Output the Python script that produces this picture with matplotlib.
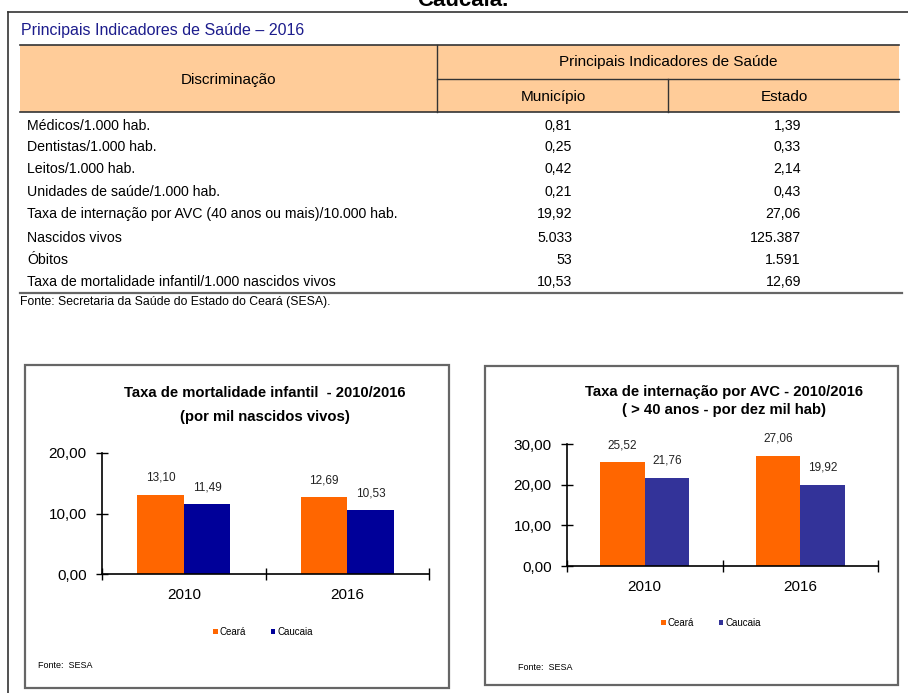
import numpy as np
import matplotlib
matplotlib.use("Agg")
import matplotlib.pyplot as plt
from matplotlib.patches import Rectangle
from matplotlib.lines import Line2D

# -----------------------------
# data
# -----------------------------
indicadores = [
    "Médicos/1.000 hab.",
    "Dentistas/1.000 hab.",
    "Leitos/1.000 hab.",
    "Unidades de saúde/1.000 hab.",
    "Taxa de internação por AVC (40 anos ou mais)/10.000 hab.",
    "Nascidos vivos",
    "Óbitos",
    "Taxa de mortalidade infantil/1.000 nascidos vivos",
]
municipio = ["0,81", "0,25", "0,42", "0,21", "19,92", "5.033", "53", "10,53"]
estado = ["1,39", "0,33", "2,14", "0,43", "27,06", "125.387", "1.591", "12,69"]

anos = ["2010", "2016"]
mort_ceara = [13.10, 12.69]
mort_caucaia = [11.49, 10.53]
avc_ceara = [25.52, 27.06]
avc_caucaia = [21.76, 19.92]

W, H = 908, 693
plt.rcParams["font.family"] = ["Liberation Sans", "DejaVu Sans"]

fig = plt.figure(figsize=(W / 100, H / 100), dpi=100)


def fx(x):
    return x / W


def fy(y):
    return 1 - y / H


def hline(x0, x1, y, color="#333333", lw=1.0):
    fig.add_artist(Line2D([fx(x0), fx(x1)], [fy(y), fy(y)], color=color, lw=lw))


def vline(x, y0, y1, color="#333333", lw=1.0):
    fig.add_artist(Line2D([fx(x), fx(x)], [fy(y0), fy(y1)], color=color, lw=lw))


def txt(x, y, s, **kw):
    kw.setdefault("va", "center")
    fig.text(fx(x), fy(y), s, **kw)


# -----------------------------
# page frame + cut heading
# -----------------------------
txt(463, 6, "Caucaia.", ha="center", va="baseline", fontsize=16, fontweight="bold")
hline(8, 908, 12, lw=1.2)
vline(8, 12, 693, lw=1.2)

# -----------------------------
# table
# -----------------------------
txt(21, 30, "Principais Indicadores de Saúde – 2016", color="#1c1c8c", fontsize=11.5)

fig.add_artist(Rectangle((fx(20), fy(112)), fx(899) - fx(20), fy(45) - fy(112),
                         facecolor="#ffcc99", edgecolor="none"))
hline(20, 899, 45, lw=1.2)
hline(20, 899, 112, lw=1.2)
vline(437, 45, 112)
hline(437, 899, 79)
vline(668, 79, 112)

txt(228, 80, "Discriminação", ha="center", fontsize=11)
txt(668, 62, "Principais Indicadores de Saúde", ha="center", fontsize=11)
txt(553, 97, "Município", ha="center", fontsize=11)
txt(784, 97, "Estado", ha="center", fontsize=11)

row_y = [126, 147, 169, 192, 214, 238, 260, 282]
for yy, lab, m, e in zip(row_y, indicadores, municipio, estado):
    txt(27, yy, lab, fontsize=10.2)
    txt(572, yy, m, ha="right", fontsize=10.2)
    txt(801, yy, e, ha="right", fontsize=10.2)

hline(20, 902, 293, color="#666666", lw=1.6)
txt(20, 302, "Fonte: Secretaria da Saúde do Estado do Ceará (SESA).", fontsize=8.8)


# -----------------------------
# charts
# -----------------------------
def bar_chart(box, axbox, titles, ceara, caucaia, ymax, step, navy, leg_xy, fonte_xy):
    bx0, by0, bx1, by1 = box
    fig.add_artist(Rectangle((fx(bx0), fy(by1)), fx(bx1) - fx(bx0), fy(by0) - fy(by1),
                             facecolor="none", edgecolor="#666666", lw=1.6))
    ax0, ay0, ax1, ay1 = axbox
    ax = fig.add_axes([fx(ax0), fy(ay1), fx(ax1) - fx(ax0), fy(ay0) - fy(ay1)])
    ax.patch.set_alpha(0)

    x = np.arange(len(anos)) + 0.5
    w = 0.285
    b1 = ax.bar(x - w / 2, ceara, w, color="#ff6600", label="Ceará")
    b2 = ax.bar(x + w / 2, caucaia, w, color=navy, label="Caucaia")
    for bars, vals in ((b1, ceara), (b2, caucaia)):
        for r, v in zip(bars, vals):
            ax.annotate(f"{v:.2f}".replace(".", ","), (r.get_x() + r.get_width() / 2, v),
                        xytext=(0, 8), textcoords="offset points",
                        ha="center", va="bottom", fontsize=8.5, color="#222222")

    ax.set_xlim(0, len(anos))
    ax.set_ylim(0, ymax)
    yt = np.arange(0, ymax + 0.1, step)
    ax.set_yticks(yt)
    ax.set_yticklabels([f"{v:.2f}".replace(".", ",") for v in yt], fontsize=11)
    ax.set_xticks(np.arange(len(anos) + 1))
    ax.set_xticklabels([])
    ax.set_xticks(x, minor=True)
    ax.set_xticklabels(anos, minor=True, fontsize=11)
    ax.tick_params(axis="both", which="major", direction="inout", length=8, width=1)
    ax.tick_params(axis="y", pad=7)
    ax.tick_params(axis="x", which="minor", length=0, pad=10)
    for s in ("top", "right"):
        ax.spines[s].set_visible(False)
    for s in ("left", "bottom"):
        ax.spines[s].set_linewidth(1.2)

    for cx, cy, s in titles:
        txt(cx, cy, s, ha="center", fontsize=10.7, fontweight="bold")

    fig.legend(handles=[b1, b2], labels=["Ceará", "Caucaia"], loc="center",
               bbox_to_anchor=(fx(leg_xy[0]), fy(leg_xy[1])), ncol=2, frameon=False,
               fontsize=7, handlelength=0.5, handleheight=0.5, handletextpad=0.2,
               columnspacing=2.5)
    txt(fonte_xy[0], fonte_xy[1], "Fonte:  SESA", fontsize=6.5)
    return ax


bar_chart((25, 365, 449, 688), (102, 453, 429, 574),
          [(265, 393, "Taxa de mortalidade infantil  - 2010/2016"),
           (265, 417, "(por mil nascidos vivos)")],
          mort_ceara, mort_caucaia, 20, 10, "#000099", (263, 632), (38, 665))

bar_chart((485, 366, 898, 685), (567, 444, 878, 566),
          [(724, 392, "Taxa de internação por AVC - 2010/2016"),
           (724, 410, "( > 40 anos - por dez mil hab)")],
          avc_ceara, avc_caucaia, 30, 10, "#333399", (711, 623), (518, 668))

fig.savefig("out.png", dpi=100)
